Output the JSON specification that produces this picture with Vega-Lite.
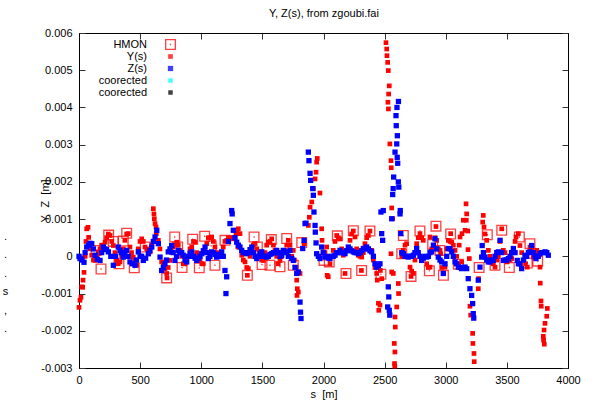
{
  "$schema": "https://vega.github.io/schema/vega-lite/v6.json",
  "width": 489,
  "height": 335,
  "autosize": "none",
  "padding": {"left": 79, "top": 33, "right": 27, "bottom": 35},
  "background": "white",
  "title": {"text": [".", ".", ".", "s", ",", "."], "orient": "left", "angle": 0, "anchor": "middle", "baseline": "top", "dy": 30, "fontSize": 11, "fontWeight": "normal", "font": "Liberation Sans", "lineHeight": 18.5, "color": "black", "offset": 28},
  "datasets": {
    "pts": [
      {"s":139,"v":0.00016,"k":"HMON"},{"s":180,"v":-0.00034,"k":"HMON"},{"s":243,"v":0.00057,"k":"HMON"},{"s":280,"v":0.0004,"k":"HMON"},{"s":327,"v":-0.0002,"k":"HMON"},{"s":362,"v":0.00041,"k":"HMON"},{"s":390,"v":0.00062,"k":"HMON"},{"s":452,"v":-0.00031,"k":"HMON"},{"s":542,"v":0.00025,"k":"HMON"},{"s":717,"v":-0.00058,"k":"HMON"},{"s":783,"v":0.00052,"k":"HMON"},{"s":807,"v":0.00025,"k":"HMON"},{"s":843,"v":-0.0003,"k":"HMON"},{"s":930,"v":0.00046,"k":"HMON"},{"s":984,"v":-0.00031,"k":"HMON"},{"s":1028,"v":0.00054,"k":"HMON"},{"s":1082,"v":0.00028,"k":"HMON"},{"s":1112,"v":-0.00024,"k":"HMON"},{"s":1194,"v":0.00043,"k":"HMON"},{"s":1377,"v":-0.00051,"k":"HMON"},{"s":1432,"v":0.00052,"k":"HMON"},{"s":1459,"v":0.00025,"k":"HMON"},{"s":1497,"v":-0.00022,"k":"HMON"},{"s":1562,"v":-0.00024,"k":"HMON"},{"s":1573,"v":0.00045,"k":"HMON"},{"s":1644,"v":-0.00028,"k":"HMON"},{"s":1699,"v":0.00048,"k":"HMON"},{"s":1753,"v":-0.00024,"k":"HMON"},{"s":1822,"v":0.00037,"k":"HMON"},{"s":2004,"v":-0.00011,"k":"HMON"},{"s":2047,"v":-0.00015,"k":"HMON"},{"s":2113,"v":0.00055,"k":"HMON"},{"s":2184,"v":-0.00046,"k":"HMON"},{"s":2244,"v":0.00069,"k":"HMON"},{"s":2312,"v":-0.00038,"k":"HMON"},{"s":2380,"v":0.00068,"k":"HMON"},{"s":2470,"v":-0.00048,"k":"HMON"},{"s":2640,"v":0.00007,"k":"HMON"},{"s":2653,"v":0.00056,"k":"HMON"},{"s":2716,"v":-0.00054,"k":"HMON"},{"s":2789,"v":0.00068,"k":"HMON"},{"s":2866,"v":-0.00039,"k":"HMON"},{"s":2893,"v":0.00032,"k":"HMON"},{"s":2920,"v":0.00081,"k":"HMON"},{"s":2953,"v":0.00016,"k":"HMON"},{"s":2981,"v":-0.00051,"k":"HMON"},{"s":3040,"v":0.0006,"k":"HMON"},{"s":3103,"v":-0.00021,"k":"HMON"},{"s":3273,"v":-0.0003,"k":"HMON"},{"s":3340,"v":0.00058,"k":"HMON"},{"s":3403,"v":-0.00024,"k":"HMON"},{"s":3458,"v":0.0007,"k":"HMON"},{"s":3520,"v":-0.0003,"k":"HMON"},{"s":3602,"v":0.00052,"k":"HMON"},{"s":3667,"v":-0.00018,"k":"HMON"},{"s":3689,"v":0.00034,"k":"HMON"},{"s":3752,"v":-0.00013,"k":"HMON"},
      {"s":0,"v":-0.00137,"k":"Y"},{"s":8,"v":-0.00118,"k":"Y"},{"s":16,"v":-0.0011,"k":"Y"},{"s":22,"v":-0.00082,"k":"Y"},{"s":30,"v":-0.00083,"k":"Y"},{"s":33,"v":-0.00064,"k":"Y"},{"s":41,"v":-0.00043,"k":"Y"},{"s":63,"v":0.00074,"k":"Y"},{"s":74,"v":0.00078,"k":"Y"},{"s":79,"v":0.00051,"k":"Y"},{"s":82,"v":0.00035,"k":"Y"},{"s":104,"v":0.00003,"k":"Y"},{"s":131,"v":-0.00011,"k":"Y"},{"s":158,"v":0.00012,"k":"Y"},{"s":213,"v":0.00038,"k":"Y"},{"s":254,"v":0.00056,"k":"Y"},{"s":281,"v":0.00029,"k":"Y"},{"s":308,"v":-0.00011,"k":"Y"},{"s":335,"v":-0.00015,"k":"Y"},{"s":376,"v":0.00043,"k":"Y"},{"s":403,"v":0.00061,"k":"Y"},{"s":417,"v":0.00025,"k":"Y"},{"s":444,"v":-0.00002,"k":"Y"},{"s":472,"v":-0.00024,"k":"Y"},{"s":513,"v":0.00047,"k":"Y"},{"s":540,"v":0.00025,"k":"Y"},{"s":581,"v":0.00012,"k":"Y"},{"s":608,"v":0.00128,"k":"Y"},{"s":613,"v":0.00114,"k":"Y"},{"s":616,"v":0.00101,"k":"Y"},{"s":622,"v":0.00088,"k":"Y"},{"s":630,"v":0.00079,"k":"Y"},{"s":632,"v":0.00061,"k":"Y"},{"s":649,"v":0.00043,"k":"Y"},{"s":676,"v":-0.00015,"k":"Y"},{"s":703,"v":-0.00033,"k":"Y"},{"s":717,"v":-0.00046,"k":"Y"},{"s":720,"v":-0.00058,"k":"Y"},{"s":744,"v":-0.00011,"k":"Y"},{"s":771,"v":0.00025,"k":"Y"},{"s":799,"v":0.00038,"k":"Y"},{"s":826,"v":0.00016,"k":"Y"},{"s":853,"v":-0.0002,"k":"Y"},{"s":881,"v":-0.00006,"k":"Y"},{"s":922,"v":0.00025,"k":"Y"},{"s":949,"v":0.00038,"k":"Y"},{"s":976,"v":-0.00002,"k":"Y"},{"s":1017,"v":-0.0002,"k":"Y"},{"s":1045,"v":0.00034,"k":"Y"},{"s":1085,"v":0.00052,"k":"Y"},{"s":1112,"v":0.00025,"k":"Y"},{"s":1153,"v":0.00003,"k":"Y"},{"s":1180,"v":0.00025,"k":"Y"},{"s":1208,"v":0.00043,"k":"Y"},{"s":1249,"v":0.00047,"k":"Y"},{"s":1284,"v":0.00061,"k":"Y"},{"s":1303,"v":0.00074,"k":"Y"},{"s":1317,"v":0.00061,"k":"Y"},{"s":1300,"v":0.00025,"k":"Y"},{"s":1331,"v":0.00003,"k":"Y"},{"s":1358,"v":-0.00015,"k":"Y"},{"s":1385,"v":-0.00033,"k":"Y"},{"s":1377,"v":-0.00051,"k":"Y"},{"s":1413,"v":0.00016,"k":"Y"},{"s":1440,"v":0.00034,"k":"Y"},{"s":1481,"v":0.00012,"k":"Y"},{"s":1508,"v":-0.00011,"k":"Y"},{"s":1549,"v":0.00038,"k":"Y"},{"s":1576,"v":0.00047,"k":"Y"},{"s":1603,"v":0.00016,"k":"Y"},{"s":1644,"v":-0.00011,"k":"Y"},{"s":1685,"v":0.00016,"k":"Y"},{"s":1712,"v":0.00043,"k":"Y"},{"s":1753,"v":0.00016,"k":"Y"},{"s":1775,"v":-0.00029,"k":"Y"},{"s":1781,"v":-0.00064,"k":"Y"},{"s":1786,"v":-0.00087,"k":"Y"},{"s":1794,"v":-0.00096,"k":"Y"},{"s":1783,"v":-0.00105,"k":"Y"},{"s":1808,"v":-0.00046,"k":"Y"},{"s":1841,"v":0.00034,"k":"Y"},{"s":1876,"v":0.00083,"k":"Y"},{"s":1884,"v":0.00105,"k":"Y"},{"s":1890,"v":0.00132,"k":"Y"},{"s":1904,"v":0.00146,"k":"Y"},{"s":1917,"v":0.00182,"k":"Y"},{"s":1931,"v":0.00208,"k":"Y"},{"s":1939,"v":0.00226,"k":"Y"},{"s":1944,"v":0.00253,"k":"Y"},{"s":1949,"v":0.00263,"k":"Y"},{"s":1971,"v":0.0017,"k":"Y"},{"s":1985,"v":0.00074,"k":"Y"},{"s":1988,"v":0.00043,"k":"Y"},{"s":1998,"v":0.00012,"k":"Y"},{"s":2026,"v":0.00025,"k":"Y"},{"s":2030,"v":-0.00051,"k":"Y"},{"s":2039,"v":-0.00055,"k":"Y"},{"s":2080,"v":0.00016,"k":"Y"},{"s":2108,"v":0.00056,"k":"Y"},{"s":2135,"v":0.00047,"k":"Y"},{"s":2162,"v":0.00003,"k":"Y"},{"s":2190,"v":0.00016,"k":"Y"},{"s":2176,"v":-0.00046,"k":"Y"},{"s":2217,"v":0.00043,"k":"Y"},{"s":2244,"v":0.00068,"k":"Y"},{"s":2258,"v":0.00052,"k":"Y"},{"s":2285,"v":0.00003,"k":"Y"},{"s":2312,"v":-0.00002,"k":"Y"},{"s":2310,"v":-0.00038,"k":"Y"},{"s":2339,"v":0.00034,"k":"Y"},{"s":2367,"v":0.00056,"k":"Y"},{"s":2380,"v":0.00068,"k":"Y"},{"s":2394,"v":0.00016,"k":"Y"},{"s":2435,"v":-0.00046,"k":"Y"},{"s":2440,"v":-0.00064,"k":"Y"},{"s":2449,"v":-0.00126,"k":"Y"},{"s":2452,"v":-0.00145,"k":"Y"},{"s":2462,"v":-0.00131,"k":"Y"},{"s":2476,"v":-0.0006,"k":"Y"},{"s":2465,"v":-0.00038,"k":"Y"},{"s":2511,"v":0.00574,"k":"Y"},{"s":2517,"v":0.00557,"k":"Y"},{"s":2519,"v":0.00539,"k":"Y"},{"s":2525,"v":0.00521,"k":"Y"},{"s":2530,"v":0.00499,"k":"Y"},{"s":2538,"v":0.00458,"k":"Y"},{"s":2533,"v":0.00436,"k":"Y"},{"s":2527,"v":0.00414,"k":"Y"},{"s":2531,"v":0.00396,"k":"Y"},{"s":2543,"v":0.00302,"k":"Y"},{"s":2552,"v":0.00257,"k":"Y"},{"s":2554,"v":0.00238,"k":"Y"},{"s":2558,"v":0.0013,"k":"Y"},{"s":2566,"v":0.00101,"k":"Y"},{"s":2552,"v":0.00007,"k":"Y"},{"s":2558,"v":-0.00042,"k":"Y"},{"s":2571,"v":-0.00046,"k":"Y"},{"s":2612,"v":-0.00073,"k":"Y"},{"s":2614,"v":-0.001,"k":"Y"},{"s":2599,"v":-0.00136,"k":"Y"},{"s":2585,"v":-0.00163,"k":"Y"},{"s":2587,"v":-0.0019,"k":"Y"},{"s":2579,"v":-0.00234,"k":"Y"},{"s":2584,"v":-0.00257,"k":"Y"},{"s":2581,"v":-0.00288,"k":"Y"},{"s":2583,"v":-0.00295,"k":"Y"},{"s":2653,"v":0.00016,"k":"Y"},{"s":2680,"v":0.00034,"k":"Y"},{"s":2708,"v":-0.00029,"k":"Y"},{"s":2716,"v":-0.00054,"k":"Y"},{"s":2735,"v":-0.00046,"k":"Y"},{"s":2762,"v":0.00034,"k":"Y"},{"s":2789,"v":0.00061,"k":"Y"},{"s":2816,"v":0.00043,"k":"Y"},{"s":2844,"v":-0.0002,"k":"Y"},{"s":2871,"v":-0.00029,"k":"Y"},{"s":2871,"v":0.00052,"k":"Y"},{"s":2899,"v":0.00025,"k":"Y"},{"s":2926,"v":0.00043,"k":"Y"},{"s":2920,"v":0.0008,"k":"Y"},{"s":2953,"v":0.00016,"k":"Y"},{"s":2958,"v":0.00007,"k":"Y"},{"s":2980,"v":-0.00046,"k":"Y"},{"s":2994,"v":-0.00029,"k":"Y"},{"s":3021,"v":0.00043,"k":"Y"},{"s":3040,"v":0.00061,"k":"Y"},{"s":3049,"v":0.00038,"k":"Y"},{"s":3076,"v":0.00016,"k":"Y"},{"s":3103,"v":-0.00021,"k":"Y"},{"s":3117,"v":0.00052,"k":"Y"},{"s":3130,"v":-0.00015,"k":"Y"},{"s":3133,"v":0.00061,"k":"Y"},{"s":3144,"v":0.00097,"k":"Y"},{"s":3158,"v":0.0007,"k":"Y"},{"s":3166,"v":0.00141,"k":"Y"},{"s":3171,"v":0.00114,"k":"Y"},{"s":3168,"v":0.00097,"k":"Y"},{"s":3180,"v":0.00068,"k":"Y"},{"s":3182,"v":0.00018,"k":"Y"},{"s":3193,"v":-0.00006,"k":"Y"},{"s":3198,"v":-0.00134,"k":"Y"},{"s":3204,"v":-0.00158,"k":"Y"},{"s":3220,"v":-0.00207,"k":"Y"},{"s":3222,"v":-0.00234,"k":"Y"},{"s":3231,"v":-0.00261,"k":"Y"},{"s":3233,"v":-0.00283,"k":"Y"},{"s":3266,"v":-0.00087,"k":"Y"},{"s":3268,"v":-0.0006,"k":"Y"},{"s":3307,"v":0.0011,"k":"Y"},{"s":3302,"v":0.00092,"k":"Y"},{"s":3313,"v":0.00079,"k":"Y"},{"s":3335,"v":0.00043,"k":"Y"},{"s":3348,"v":0.00016,"k":"Y"},{"s":3376,"v":-0.00011,"k":"Y"},{"s":3403,"v":-0.00029,"k":"Y"},{"s":3430,"v":-0.00002,"k":"Y"},{"s":3458,"v":0.00074,"k":"Y"},{"s":3471,"v":0.00016,"k":"Y"},{"s":3503,"v":-0.00015,"k":"Y"},{"s":3540,"v":-0.00006,"k":"Y"},{"s":3575,"v":0.00052,"k":"Y"},{"s":3594,"v":0.00061,"k":"Y"},{"s":3607,"v":0.00029,"k":"Y"},{"s":3640,"v":-0.00011,"k":"Y"},{"s":3667,"v":-0.00029,"k":"Y"},{"s":3689,"v":0.00025,"k":"Y"},{"s":3716,"v":-0.00002,"k":"Y"},{"s":3744,"v":0.00016,"k":"Y"},{"s":3749,"v":0.00003,"k":"Y"},{"s":3771,"v":-0.00029,"k":"Y"},{"s":3773,"v":-0.00072,"k":"Y"},{"s":3779,"v":-0.0012,"k":"Y"},{"s":3781,"v":-0.00134,"k":"Y"},{"s":3831,"v":-0.0014,"k":"Y"},{"s":3826,"v":-0.00161,"k":"Y"},{"s":3812,"v":-0.0018,"k":"Y"},{"s":3804,"v":-0.00198,"k":"Y"},{"s":3798,"v":-0.00215,"k":"Y"},{"s":3800,"v":-0.00225,"k":"Y"},{"s":3806,"v":-0.00236,"k":"Y"},
      {"s":50,"v":0.0,"k":"Y"},{"s":57,"v":0.0004,"k":"Y"},{"s":90,"v":0.0002,"k":"Y"},{"s":118,"v":-0.0001,"k":"Y"},{"s":145,"v":0.0,"k":"Y"},{"s":172,"v":0.0002,"k":"Y"},{"s":185,"v":0.0003,"k":"Y"},{"s":199,"v":0.0003,"k":"Y"},{"s":226,"v":0.0005,"k":"Y"},{"s":240,"v":0.0006,"k":"Y"},{"s":268,"v":0.0004,"k":"Y"},{"s":294,"v":0.0001,"k":"Y"},{"s":321,"v":-0.0002,"k":"Y"},{"s":349,"v":0.0,"k":"Y"},{"s":362,"v":0.0002,"k":"Y"},{"s":390,"v":0.0006,"k":"Y"},{"s":430,"v":0.0001,"k":"Y"},{"s":458,"v":-0.0001,"k":"Y"},{"s":485,"v":0.0002,"k":"Y"},{"s":499,"v":0.0004,"k":"Y"},{"s":526,"v":0.0004,"k":"Y"},{"s":554,"v":0.0002,"k":"Y"},{"s":567,"v":0.0001,"k":"Y"},{"s":595,"v":0.0003,"k":"Y"},
      {"s":662,"v":0.0002,"k":"Y"},{"s":690,"v":-0.0002,"k":"Y"},{"s":730,"v":-0.0003,"k":"Y"},{"s":758,"v":0.0001,"k":"Y"},{"s":785,"v":0.0003,"k":"Y"},{"s":812,"v":0.0003,"k":"Y"},{"s":840,"v":0.0,"k":"Y"},{"s":867,"v":-0.0002,"k":"Y"},{"s":895,"v":0.0,"k":"Y"},{"s":908,"v":0.0002,"k":"Y"},{"s":936,"v":0.0004,"k":"Y"},{"s":963,"v":0.0001,"k":"Y"},{"s":990,"v":-0.0001,"k":"Y"},{"s":1004,"v":-0.0002,"k":"Y"},{"s":1031,"v":0.0001,"k":"Y"},{"s":1058,"v":0.0005,"k":"Y"},{"s":1071,"v":0.0005,"k":"Y"},{"s":1099,"v":0.0004,"k":"Y"},{"s":1126,"v":0.0001,"k":"Y"},{"s":1140,"v":0.0,"k":"Y"},{"s":1167,"v":0.0001,"k":"Y"},{"s":1194,"v":0.0004,"k":"Y"},{"s":1222,"v":0.0005,"k":"Y"},{"s":1235,"v":0.0005,"k":"Y"},
      {"s":1262,"v":0.0005,"k":"Y"},{"s":1290,"v":0.0007,"k":"Y"},{"s":1344,"v":-0.0001,"k":"Y"},{"s":1372,"v":-0.0003,"k":"Y"},{"s":1399,"v":0.0,"k":"Y"},{"s":1426,"v":0.0003,"k":"Y"},{"s":1454,"v":0.0002,"k":"Y"},{"s":1467,"v":0.0,"k":"Y"},{"s":1495,"v":-0.0001,"k":"Y"},{"s":1521,"v":0.0001,"k":"Y"},{"s":1535,"v":0.0003,"k":"Y"},{"s":1562,"v":0.0004,"k":"Y"},{"s":1590,"v":0.0003,"k":"Y"},{"s":1617,"v":0.0,"k":"Y"},{"s":1630,"v":-0.0002,"k":"Y"},{"s":1658,"v":0.0,"k":"Y"},{"s":1671,"v":0.0001,"k":"Y"},{"s":1699,"v":0.0003,"k":"Y"},{"s":1726,"v":0.0003,"k":"Y"},{"s":1740,"v":0.0,"k":"Y"},{"s":1762,"v":-0.0001,"k":"Y"},
      {"s":2012,"v":0.0001,"k":"Y"},{"s":2053,"v":-0.0002,"k":"Y"},{"s":2067,"v":0.0,"k":"Y"},{"s":2094,"v":0.0004,"k":"Y"},{"s":2121,"v":0.0005,"k":"Y"},{"s":2149,"v":0.0002,"k":"Y"},{"s":2203,"v":0.0002,"k":"Y"},{"s":2230,"v":0.0006,"k":"Y"},{"s":2271,"v":0.0002,"k":"Y"},{"s":2299,"v":0.0,"k":"Y"},{"s":2326,"v":0.0001,"k":"Y"},{"s":2353,"v":0.0005,"k":"Y"},{"s":2408,"v":-0.0001,"k":"Y"},{"s":2421,"v":-0.0003,"k":"Y"},
      {"s":2640,"v":0.0,"k":"Y"},{"s":2667,"v":0.0003,"k":"Y"},{"s":2694,"v":0.0,"k":"Y"},{"s":2721,"v":-0.0004,"k":"Y"},{"s":2748,"v":-0.0001,"k":"Y"},{"s":2775,"v":0.0005,"k":"Y"},{"s":2803,"v":0.0005,"k":"Y"},{"s":2830,"v":0.0,"k":"Y"},{"s":2858,"v":-0.0003,"k":"Y"},{"s":2885,"v":0.0002,"k":"Y"},{"s":2912,"v":0.0005,"k":"Y"},{"s":2939,"v":0.0002,"k":"Y"},{"s":2967,"v":-0.0003,"k":"Y"},{"s":3008,"v":0.0002,"k":"Y"},{"s":3035,"v":0.0004,"k":"Y"},{"s":3062,"v":0.0003,"k":"Y"},{"s":3089,"v":0.0,"k":"Y"},{"s":3110,"v":0.0003,"k":"Y"},
      {"s":3321,"v":0.0006,"k":"Y"},{"s":3362,"v":0.0,"k":"Y"},{"s":3389,"v":-0.0002,"k":"Y"},{"s":3417,"v":-0.0001,"k":"Y"},{"s":3444,"v":0.0004,"k":"Y"},{"s":3485,"v":0.0001,"k":"Y"},{"s":3526,"v":-0.0001,"k":"Y"},{"s":3553,"v":0.0001,"k":"Y"},{"s":3567,"v":0.0004,"k":"Y"},{"s":3621,"v":0.0001,"k":"Y"},{"s":3653,"v":-0.0002,"k":"Y"},{"s":3676,"v":0.0001,"k":"Y"},{"s":3703,"v":0.0002,"k":"Y"},{"s":3730,"v":0.0001,"k":"Y"},{"s":3757,"v":0.0001,"k":"Y"},
      {"s":0,"v":0,"k":"Z"},{"s":8,"v":-0.00006,"k":"Z"},{"s":16,"v":-0.00005,"k":"Z"},{"s":41,"v":-0.00016,"k":"Z"},{"s":63,"v":0.00025,"k":"Z"},{"s":104,"v":0.00034,"k":"Z"},{"s":131,"v":0.00003,"k":"Z"},{"s":172,"v":-0.00011,"k":"Z"},{"s":199,"v":0.00025,"k":"Z"},{"s":240,"v":0.00012,"k":"Z"},{"s":281,"v":-0.00024,"k":"Z"},{"s":321,"v":0.00025,"k":"Z"},{"s":362,"v":-0.00002,"k":"Z"},{"s":390,"v":0.00016,"k":"Z"},{"s":417,"v":-0.00015,"k":"Z"},{"s":458,"v":-0.00024,"k":"Z"},{"s":485,"v":0.00012,"k":"Z"},{"s":526,"v":-0.00011,"k":"Z"},{"s":567,"v":0.00007,"k":"Z"},{"s":595,"v":0.00025,"k":"Z"},{"s":622,"v":0.00052,"k":"Z"},{"s":636,"v":0.0007,"k":"Z"},{"s":649,"v":0.00034,"k":"Z"},{"s":663,"v":-0.00002,"k":"Z"},{"s":676,"v":-0.00038,"k":"Z"},{"s":703,"v":-0.0002,"k":"Z"},{"s":730,"v":0.00012,"k":"Z"},{"s":758,"v":0.00029,"k":"Z"},{"s":785,"v":-0.00011,"k":"Z"},{"s":812,"v":0.00016,"k":"Z"},{"s":853,"v":0.00003,"k":"Z"},{"s":881,"v":-0.00015,"k":"Z"},{"s":922,"v":0.00012,"k":"Z"},{"s":963,"v":-0.00011,"k":"Z"},{"s":1004,"v":0.00007,"k":"Z"},{"s":1031,"v":0.00025,"k":"Z"},{"s":1058,"v":-0.00006,"k":"Z"},{"s":1085,"v":0.00012,"k":"Z"},{"s":1126,"v":-0.00002,"k":"Z"},{"s":1167,"v":0.00012,"k":"Z"},{"s":1194,"v":-0.00038,"k":"Z"},{"s":1208,"v":-0.00055,"k":"Z"},{"s":1202,"v":-0.001,"k":"Z"},{"s":1235,"v":0.00088,"k":"Z"},{"s":1249,"v":0.00123,"k":"Z"},{"s":1253,"v":0.00114,"k":"Z"},{"s":1262,"v":0.0007,"k":"Z"},{"s":1290,"v":0.00038,"k":"Z"},{"s":1331,"v":0.00016,"k":"Z"},{"s":1372,"v":0.00007,"k":"Z"},{"s":1413,"v":0.00025,"k":"Z"},{"s":1454,"v":-0.00006,"k":"Z"},{"s":1495,"v":0.00012,"k":"Z"},{"s":1535,"v":-0.00002,"k":"Z"},{"s":1576,"v":0.00007,"k":"Z"},{"s":1617,"v":0.00016,"k":"Z"},{"s":1658,"v":0.00003,"k":"Z"},{"s":1671,"v":0.00016,"k":"Z"},{"s":1699,"v":0.00012,"k":"Z"},{"s":1726,"v":0.00016,"k":"Z"},{"s":1740,"v":-0.00006,"k":"Z"},{"s":1753,"v":-0.00011,"k":"Z"},{"s":1781,"v":-0.00046,"k":"Z"},{"s":1794,"v":-0.00042,"k":"Z"},{"s":1808,"v":-0.00123,"k":"Z"},{"s":1812,"v":-0.0015,"k":"Z"},{"s":1816,"v":-0.00167,"k":"Z"},{"s":1830,"v":0.00021,"k":"Z"},{"s":1841,"v":0.00043,"k":"Z"},{"s":1849,"v":0.00088,"k":"Z"},{"s":1857,"v":0.00089,"k":"Z"},{"s":1876,"v":0.0028,"k":"Z"},{"s":1881,"v":0.00257,"k":"Z"},{"s":1890,"v":0.00223,"k":"Z"},{"s":1895,"v":0.00204,"k":"Z"},{"s":1912,"v":0.00182,"k":"Z"},{"s":1917,"v":0.00164,"k":"Z"},{"s":1922,"v":0.00119,"k":"Z"},{"s":1931,"v":0.00083,"k":"Z"},{"s":1933,"v":0.00065,"k":"Z"},{"s":1939,"v":0.00036,"k":"Z"},{"s":1944,"v":0.00007,"k":"Z"},{"s":1971,"v":-0.00006,"k":"Z"},{"s":1985,"v":0.00025,"k":"Z"},{"s":2012,"v":-0.00002,"k":"Z"},{"s":2053,"v":-0.00006,"k":"Z"},{"s":2094,"v":0.00003,"k":"Z"},{"s":2135,"v":0.00016,"k":"Z"},{"s":2176,"v":0.00007,"k":"Z"},{"s":2203,"v":0.00025,"k":"Z"},{"s":2244,"v":0.00012,"k":"Z"},{"s":2285,"v":0.00007,"k":"Z"},{"s":2326,"v":0.00021,"k":"Z"},{"s":2353,"v":0.00025,"k":"Z"},{"s":2394,"v":0.00012,"k":"Z"},{"s":2435,"v":-0.00029,"k":"Z"},{"s":2462,"v":-0.0002,"k":"Z"},{"s":2476,"v":0.00061,"k":"Z"},{"s":2484,"v":0.00043,"k":"Z"},{"s":2489,"v":0.00123,"k":"Z"},{"s":2470,"v":0.00119,"k":"Z"},{"s":2530,"v":-0.00082,"k":"Z"},{"s":2534,"v":-0.00109,"k":"Z"},{"s":2538,"v":-0.00145,"k":"Z"},{"s":2542,"v":-0.00158,"k":"Z"},{"s":2525,"v":-0.00136,"k":"Z"},{"s":2558,"v":0.00101,"k":"Z"},{"s":2566,"v":0.00166,"k":"Z"},{"s":2570,"v":0.00182,"k":"Z"},{"s":2574,"v":0.00213,"k":"Z"},{"s":2585,"v":0.0028,"k":"Z"},{"s":2599,"v":0.00302,"k":"Z"},{"s":2604,"v":0.00324,"k":"Z"},{"s":2595,"v":0.00351,"k":"Z"},{"s":2593,"v":0.00378,"k":"Z"},{"s":2601,"v":0.004,"k":"Z"},{"s":2613,"v":0.00416,"k":"Z"},{"s":2607,"v":0.0025,"k":"Z"},{"s":2603,"v":0.00266,"k":"Z"},{"s":2612,"v":0.002,"k":"Z"},{"s":2616,"v":0.00186,"k":"Z"},{"s":2626,"v":0.00114,"k":"Z"},{"s":2628,"v":0.00123,"k":"Z"},{"s":2632,"v":0.00061,"k":"Z"},{"s":2653,"v":0.00007,"k":"Z"},{"s":2694,"v":-0.00002,"k":"Z"},{"s":2735,"v":0.00003,"k":"Z"},{"s":2762,"v":0.00021,"k":"Z"},{"s":2803,"v":-0.00011,"k":"Z"},{"s":2844,"v":-0.00002,"k":"Z"},{"s":2885,"v":0.00012,"k":"Z"},{"s":2912,"v":0.00047,"k":"Z"},{"s":2939,"v":-0.00002,"k":"Z"},{"s":2967,"v":-0.00015,"k":"Z"},{"s":2980,"v":-0.00046,"k":"Z"},{"s":3021,"v":0.00021,"k":"Z"},{"s":3049,"v":0.00012,"k":"Z"},{"s":3076,"v":-0.00015,"k":"Z"},{"s":3103,"v":-0.00029,"k":"Z"},{"s":3130,"v":-0.00033,"k":"Z"},{"s":3158,"v":-0.00029,"k":"Z"},{"s":3171,"v":-0.00033,"k":"Z"},{"s":3184,"v":-0.0006,"k":"Z"},{"s":3198,"v":-0.00087,"k":"Z"},{"s":3212,"v":-0.00105,"k":"Z"},{"s":3220,"v":-0.00127,"k":"Z"},{"s":3225,"v":-0.00154,"k":"Z"},{"s":3229,"v":-0.00166,"k":"Z"},{"s":3266,"v":-0.00064,"k":"Z"},{"s":3280,"v":-0.00029,"k":"Z"},{"s":3294,"v":-0.00002,"k":"Z"},{"s":3298,"v":0.00029,"k":"Z"},{"s":3321,"v":-0.00002,"k":"Z"},{"s":3348,"v":-0.00015,"k":"Z"},{"s":3389,"v":-0.00011,"k":"Z"},{"s":3430,"v":0.00012,"k":"Z"},{"s":3444,"v":0.00043,"k":"Z"},{"s":3471,"v":-0.00011,"k":"Z"},{"s":3512,"v":-0.00006,"k":"Z"},{"s":3553,"v":0.00021,"k":"Z"},{"s":3585,"v":-0.00011,"k":"Z"},{"s":3621,"v":-0.00033,"k":"Z"},{"s":3648,"v":0.00003,"k":"Z"},{"s":3689,"v":0.00012,"k":"Z"},{"s":3703,"v":0.00029,"k":"Z"},{"s":3738,"v":-0.00006,"k":"Z"},{"s":3771,"v":0.00007,"k":"Z"},{"s":3812,"v":0.00012,"k":"Z"},{"s":3839,"v":0.00003,"k":"Z"},
      {"s":25,"v":-0.0001,"k":"Z"},{"s":50,"v":0.0001,"k":"Z"},{"s":78,"v":0.0003,"k":"Z"},{"s":90,"v":0.00035,"k":"Z"},{"s":118,"v":0.0002,"k":"Z"},{"s":150,"v":-0.00008,"k":"Z"},{"s":185,"v":0.0001,"k":"Z"},{"s":212,"v":0.0002,"k":"Z"},{"s":225,"v":0.00018,"k":"Z"},{"s":260,"v":0.0,"k":"Z"},{"s":300,"v":0.0,"k":"Z"},{"s":335,"v":0.00015,"k":"Z"},{"s":348,"v":0.0001,"k":"Z"},{"s":375,"v":0.0001,"k":"Z"},{"s":403,"v":0.0,"k":"Z"},{"s":437,"v":-0.0002,"k":"Z"},{"s":470,"v":-0.0001,"k":"Z"},{"s":500,"v":0.0,"k":"Z"},{"s":512,"v":0.0,"k":"Z"},{"s":545,"v":-0.00005,"k":"Z"},{"s":580,"v":0.00015,"k":"Z"},{"s":608,"v":0.0004,"k":"Z"},
      {"s":690,"v":-0.0003,"k":"Z"},{"s":716,"v":-0.0001,"k":"Z"},{"s":744,"v":0.0002,"k":"Z"},{"s":770,"v":0.0001,"k":"Z"},{"s":798,"v":0.0,"k":"Z"},{"s":826,"v":0.0001,"k":"Z"},{"s":840,"v":0.0001,"k":"Z"},{"s":867,"v":-0.0001,"k":"Z"},{"s":895,"v":0.0,"k":"Z"},{"s":908,"v":0.00008,"k":"Z"},{"s":936,"v":0.0,"k":"Z"},{"s":950,"v":-0.00005,"k":"Z"},{"s":977,"v":-0.00005,"k":"Z"},{"s":990,"v":0.0,"k":"Z"},{"s":1017,"v":0.00015,"k":"Z"},{"s":1045,"v":0.0001,"k":"Z"},{"s":1071,"v":0.0,"k":"Z"},{"s":1099,"v":0.0001,"k":"Z"},{"s":1112,"v":0.00005,"k":"Z"},{"s":1140,"v":0.0,"k":"Z"},{"s":1153,"v":0.00005,"k":"Z"},{"s":1180,"v":0.0,"k":"Z"},
      {"s":1222,"v":0.0004,"k":"Z"},{"s":1276,"v":0.0005,"k":"Z"},{"s":1304,"v":0.0003,"k":"Z"},{"s":1317,"v":0.00025,"k":"Z"},{"s":1345,"v":0.0001,"k":"Z"},{"s":1358,"v":0.0001,"k":"Z"},{"s":1385,"v":0.0001,"k":"Z"},{"s":1399,"v":0.00018,"k":"Z"},{"s":1426,"v":0.0001,"k":"Z"},{"s":1440,"v":0.0,"k":"Z"},{"s":1467,"v":0.0,"k":"Z"},{"s":1481,"v":0.00008,"k":"Z"},{"s":1508,"v":0.0,"k":"Z"},{"s":1521,"v":0.0,"k":"Z"},{"s":1549,"v":0.0,"k":"Z"},{"s":1562,"v":0.00005,"k":"Z"},{"s":1590,"v":0.0001,"k":"Z"},{"s":1603,"v":0.0001,"k":"Z"},{"s":1630,"v":0.0001,"k":"Z"},{"s":1644,"v":0.0,"k":"Z"},{"s":1685,"v":0.0001,"k":"Z"},{"s":1712,"v":0.0,"k":"Z"},{"s":1767,"v":-0.0003,"k":"Z"},
      {"s":1958,"v":0.0,"k":"Z"},{"s":1998,"v":0.0001,"k":"Z"},{"s":2026,"v":0.0,"k":"Z"},{"s":2039,"v":-0.00005,"k":"Z"},{"s":2067,"v":0.0,"k":"Z"},{"s":2080,"v":0.0,"k":"Z"},{"s":2108,"v":0.0001,"k":"Z"},{"s":2121,"v":0.0001,"k":"Z"},{"s":2149,"v":0.0001,"k":"Z"},{"s":2162,"v":0.0001,"k":"Z"},{"s":2190,"v":0.00015,"k":"Z"},{"s":2217,"v":0.0002,"k":"Z"},{"s":2230,"v":0.00015,"k":"Z"},{"s":2258,"v":0.0001,"k":"Z"},{"s":2271,"v":0.0001,"k":"Z"},{"s":2299,"v":0.0001,"k":"Z"},{"s":2312,"v":0.00015,"k":"Z"},{"s":2339,"v":0.0002,"k":"Z"},{"s":2367,"v":0.0002,"k":"Z"},{"s":2380,"v":0.00015,"k":"Z"},{"s":2408,"v":0.0,"k":"Z"},{"s":2421,"v":-0.0002,"k":"Z"},{"s":2449,"v":-0.00025,"k":"Z"},
      {"s":2640,"v":0.0001,"k":"Z"},{"s":2667,"v":0.0,"k":"Z"},{"s":2680,"v":0.0,"k":"Z"},{"s":2708,"v":0.0,"k":"Z"},{"s":2721,"v":0.0,"k":"Z"},{"s":2748,"v":0.0001,"k":"Z"},{"s":2775,"v":0.0001,"k":"Z"},{"s":2789,"v":0.0,"k":"Z"},{"s":2816,"v":-0.00005,"k":"Z"},{"s":2830,"v":0.0,"k":"Z"},{"s":2858,"v":0.0,"k":"Z"},{"s":2871,"v":0.0001,"k":"Z"},{"s":2899,"v":0.0003,"k":"Z"},{"s":2926,"v":0.0002,"k":"Z"},{"s":2953,"v":-0.0001,"k":"Z"},{"s":2994,"v":-0.0002,"k":"Z"},{"s":3008,"v":0.0,"k":"Z"},{"s":3035,"v":0.0002,"k":"Z"},{"s":3062,"v":0.0,"k":"Z"},{"s":3089,"v":-0.0002,"k":"Z"},{"s":3117,"v":-0.0003,"k":"Z"},{"s":3144,"v":-0.0003,"k":"Z"},
      {"s":3308,"v":0.0001,"k":"Z"},{"s":3335,"v":-0.0001,"k":"Z"},{"s":3362,"v":-0.00015,"k":"Z"},{"s":3376,"v":-0.0001,"k":"Z"},{"s":3403,"v":0.0,"k":"Z"},{"s":3417,"v":0.0001,"k":"Z"},{"s":3458,"v":0.0001,"k":"Z"},{"s":3485,"v":-0.0001,"k":"Z"},{"s":3498,"v":-0.0001,"k":"Z"},{"s":3526,"v":0.0,"k":"Z"},{"s":3539,"v":0.0001,"k":"Z"},{"s":3567,"v":0.0001,"k":"Z"},{"s":3594,"v":-0.0002,"k":"Z"},{"s":3607,"v":-0.0002,"k":"Z"},{"s":3635,"v":-0.0001,"k":"Z"},{"s":3662,"v":0.0,"k":"Z"},{"s":3676,"v":0.0001,"k":"Z"},{"s":3716,"v":0.0001,"k":"Z"},{"s":3730,"v":0.0,"k":"Z"},{"s":3757,"v":0.0,"k":"Z"},{"s":3785,"v":0.0001,"k":"Z"},{"s":3798,"v":0.0001,"k":"Z"},{"s":3826,"v":0.0001,"k":"Z"}
    ]
  },
  "data": {"name": "pts"},
  "config": {
    "font": "Liberation Sans",
    "view": {"stroke": "black", "strokeWidth": 1},
    "axis": {"grid": false, "domainColor": "black", "domainWidth": 1, "tickColor": "#333333", "tickSize": -6, "labelFontSize": 11, "labelColor": "black", "labelFont": "Liberation Sans", "titleFontSize": 11, "titleFontWeight": "normal", "titleColor": "black", "titleFont": "Liberation Sans"},
    "legend": {"labelFontSize": 11, "labelFont": "Liberation Sans", "labelColor": "black"}
  },
  "layer": [
    {
      "transform": [{"filter": "datum.k == 'HMON'"}],
      "mark": {"type": "point", "filled": true, "opacity": 0.75, "strokeWidth": 0},
      "encoding": {
        "x": {"field": "s", "type": "quantitative", "scale": {"domain": [0, 4000], "nice": false, "zero": false},
              "axis": {"orient": "bottom", "values": [0,500,1000,1500,2000,2500,3000,3500,4000], "format": "d", "labelPadding": 12, "title": "s\u00a0 [m]", "titleY": 29, "titleBaseline": "alphabetic", "labelFlush": false}},
        "y": {"field": "v", "type": "quantitative", "scale": {"domain": [-0.003, 0.006], "nice": false, "zero": false},
              "axis": {"orient": "left", "values": [-0.003,-0.002,-0.001,0,0.001,0.002,0.003,0.004,0.005,0.006], "labelExpr": "replace(format(datum.value, '.3~f'), '\u2212', '-')", "labelPadding": 13, "title": "Y,\u00a0 Z\u00a0 [m]", "titleX": -29, "labelFlush": false}},
        "color": {"field": "k", "type": "nominal", "scale": {"domain": ["HMON","Y","Z","c1","c2"], "range": ["#ff0000","#ff0000","#0000ff","#00ffff","#000000"]},
                  "legend": {"orient": "none", "legendX": 85, "legendY": 5, "title": null, "labelAlign": "right", "labelOffset": -30, "rowPadding": 0, "labelExpr": "datum.value == 'Y' ? 'Y(s)' : datum.value == 'Z' ? 'Z(s)' : datum.value == 'HMON' ? 'HMON' : 'coorected'"}},
        "shape": {"field": "k", "type": "nominal", "scale": {"domain": ["HMON","Y","Z","c1","c2"], "range": ["M-1,-1H1V1H-1Z M-0.76,-0.76V0.76H0.76V-0.76Z M-0.12,-0.12H0.12V0.12H-0.12Z","square","square","square","square"]},
                  "legend": {"orient": "none", "legendX": 85, "legendY": 5, "title": null, "labelAlign": "right", "labelOffset": -30, "rowPadding": 0, "labelExpr": "datum.value == 'Y' ? 'Y(s)' : datum.value == 'Z' ? 'Z(s)' : datum.value == 'HMON' ? 'HMON' : 'coorected'"}},
        "size": {"field": "k", "type": "nominal", "scale": {"type": "ordinal", "domain": ["HMON","Y","Z","c1","c2"], "range": [121, 22, 28, 20, 20]},
                  "legend": {"orient": "none", "legendX": 85, "legendY": 5, "title": null, "labelAlign": "right", "labelOffset": -30, "rowPadding": 0, "labelExpr": "datum.value == 'Y' ? 'Y(s)' : datum.value == 'Z' ? 'Z(s)' : datum.value == 'HMON' ? 'HMON' : 'coorected'"}}
      }
    },
    {
      "transform": [{"filter": "datum.k != 'HMON'"}],
      "mark": {"type": "point", "filled": true, "opacity": 1, "strokeWidth": 0},
      "encoding": {
        "x": {"field": "s", "type": "quantitative", "scale": {"domain": [0, 4000], "nice": false, "zero": false},
              "axis": {"orient": "top", "values": [0,500,1000,1500,2000,2500,3000,3500,4000], "labels": false, "title": "Y, Z(s), from zgoubi.fai", "titleY": -17, "titleBaseline": "alphabetic"}},
        "y": {"field": "v", "type": "quantitative", "scale": {"domain": [-0.003, 0.006], "nice": false, "zero": false},
              "axis": {"orient": "right", "values": [-0.003,-0.002,-0.001,0,0.001,0.002,0.003,0.004,0.005,0.006], "labels": false, "title": null}},
        "color": {"field": "k", "type": "nominal", "scale": {"domain": ["HMON","Y","Z","c1","c2"], "range": ["#ff0000","#ff0000","#0000ff","#00ffff","#000000"]},
                  "legend": {"orient": "none", "legendX": 85, "legendY": 5, "title": null, "labelAlign": "right", "labelOffset": -30, "rowPadding": 0, "labelExpr": "datum.value == 'Y' ? 'Y(s)' : datum.value == 'Z' ? 'Z(s)' : datum.value == 'HMON' ? 'HMON' : 'coorected'"}},
        "shape": {"field": "k", "type": "nominal", "scale": {"domain": ["HMON","Y","Z","c1","c2"], "range": ["M-1,-1H1V1H-1Z M-0.76,-0.76V0.76H0.76V-0.76Z M-0.12,-0.12H0.12V0.12H-0.12Z","square","square","square","square"]},
                  "legend": {"orient": "none", "legendX": 85, "legendY": 5, "title": null, "labelAlign": "right", "labelOffset": -30, "rowPadding": 0, "labelExpr": "datum.value == 'Y' ? 'Y(s)' : datum.value == 'Z' ? 'Z(s)' : datum.value == 'HMON' ? 'HMON' : 'coorected'"}},
        "size": {"field": "k", "type": "nominal", "scale": {"type": "ordinal", "domain": ["HMON","Y","Z","c1","c2"], "range": [121, 22, 28, 20, 20]},
                  "legend": {"orient": "none", "legendX": 85, "legendY": 5, "title": null, "labelAlign": "right", "labelOffset": -30, "rowPadding": 0, "labelExpr": "datum.value == 'Y' ? 'Y(s)' : datum.value == 'Z' ? 'Z(s)' : datum.value == 'HMON' ? 'HMON' : 'coorected'"}}
      }
    }
  ],
  "resolve": {"axis": {"x": "independent", "y": "independent"}}
}
